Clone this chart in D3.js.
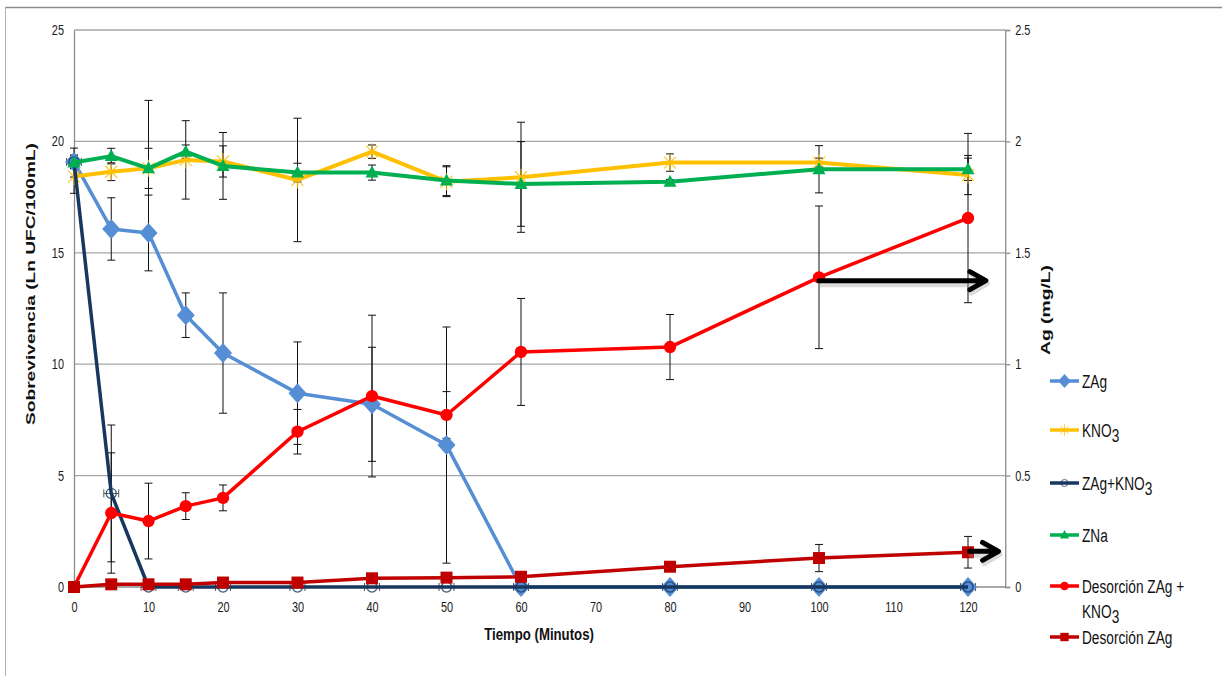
<!DOCTYPE html>
<html>
<head>
<meta charset="utf-8">
<script src="https://cdn.jsdelivr.net/npm/d3@7"></script>
<style>
  html, body { margin: 0; padding: 0; background: #ffffff; }
  svg { display: block; }
  text { font-family: "Liberation Sans", Arial, sans-serif; }
</style>
</head>
<body>
<svg id="chart" width="1222" height="676"></svg>
<script>
// Time points (minutes)
const tiempo = [0, 5, 10, 15, 20, 30, 40, 50, 60, 80, 100, 120];

// Survival, Ln UFC/100mL (left axis)
const zag          = [19.08, 16.07, 15.89, 12.2, 10.5, 8.7, 8.2, 6.37, 0, 0, 0, 0];
const zagErr       = [0.3, 1.4, 1.7, 1.0, 2.7, 2.3, 2.56, 5.3, 0, 0, 0, 0];
const kno3         = [18.42, 18.64, 18.79, 19.17, 19.1, 18.27, 19.54, 18.19, 18.39, 19.05, 19.05, 18.49];
const kno3Err      = [0.75, 0.4, 0.9, 1.76, 0.7, 2.77, 0.3, 0.67, 2.47, 0.39, 0.2, 0.88];
const zagKno3      = [19.08, 4.2, 0, 0, 0, 0, 0, 0, 0, 0, 0, 0];
const zagKno3Err   = [0.3, 3.07, 0, 0, 0, 0, 0, 0, 0, 0, 0, 0];
const zagKno3XErr  = [1, 1, 1, 1, 1, 1, 1, 1, 1, 1, 1, 1];
const zna          = [19.05, 19.34, 18.79, 19.54, 18.9, 18.6, 18.6, 18.24, 18.09, 18.19, 18.75, 18.75];
const znaErr       = [0.65, 0.35, 3.05, 0.3, 1.5, 0.42, 0.34, 0.67, 1.9, 0.1, 1.06, 0.5];

// Silver released, mg/L (right axis)
const desZagKno3    = [0, 0.332, 0.296, 0.363, 0.40, 0.697, 0.857, 0.772, 1.055, 1.077, 1.39, 1.656];
const desZagKno3Err = [0, 0.27, 0.17, 0.06, 0.058, 0.1, 0.363, 0.105, 0.24, 0.146, 0.32, 0.38];
const desZag        = [0, 0.012, 0.012, 0.012, 0.02, 0.02, 0.039, 0.042, 0.046, 0.091, 0.13, 0.156];
const desZagErr     = [0, 0, 0, 0, 0, 0, 0, 0, 0, 0, 0.061, 0.071];

// Axis ticks
const xTicks  = [0, 10, 20, 30, 40, 50, 60, 70, 80, 90, 100, 110, 120];
const yTicks  = [0, 5, 10, 15, 20, 25];
const y2Ticks = [0, 0.5, 1, 1.5, 2, 2.5];

// Arrows pointing from the silver curves towards the right axis: [x start, value, x end]
const arrowHigh = [100, 1.375, 122.4];
const arrowLow  = [120.2, 0.16, 124.1];

const svg = d3.select("#chart");

const x  = d3.scaleLinear().domain([0, 125]).range([74, 1005.25]);
const y  = d3.scaleLinear().domain([0, 25]).range([587, 30]);
const y2 = d3.scaleLinear().domain([0, 2.5]).range([587, 30]);

// Horizontally condensed text: moves x/y into a transform and squeezes the glyphs
function condense(sel, sx) {
  sel.each(function () {
    const t = d3.select(this);
    const tx = +t.attr("x") || 0, ty = +t.attr("y") || 0;
    t.attr("x", null).attr("y", null)
      .attr("transform", `translate(${tx},${ty}) scale(${sx},1)`);
  });
}

// Outer chart frame
svg.append("line").attr("x1", 5).attr("x2", 1222).attr("y1", 7.5).attr("y2", 7.5)
  .attr("stroke", "#8c8c8c").attr("stroke-width", 1.5);
svg.append("line").attr("x1", 5.5).attr("x2", 5.5).attr("y1", 7).attr("y2", 676)
  .attr("stroke", "#b0b0b0").attr("stroke-width", 1);

// Gridlines
svg.append("g").selectAll("line").data(yTicks.filter(d => d > 0)).join("line")
  .attr("x1", x(0)).attr("x2", x(125))
  .attr("y1", d => y(d)).attr("y2", d => y(d))
  .attr("stroke", "#a6a6a6").attr("stroke-width", 1.3);

// Axes
const gL = svg.append("g").attr("transform", `translate(${x(0)},0)`)
  .call(d3.axisLeft(y).tickValues(yTicks).tickSize(0).tickPadding(10).tickFormat(d3.format("d")));
const gR = svg.append("g").attr("transform", `translate(${x(125)},0)`)
  .call(d3.axisRight(y2).tickValues(y2Ticks).tickSize(5).tickPadding(5).tickFormat(d => d3.format("")(d)));
const gB = svg.append("g").attr("transform", `translate(0,${y(0)})`)
  .call(d3.axisBottom(x).tickValues(xTicks).tickSize(0).tickPadding(15).tickFormat(d3.format("d")));
[gL, gR, gB].forEach(g => {
  g.select(".domain").attr("stroke", "#8c8c8c").attr("stroke-width", 1.3);
  g.selectAll(".tick line").attr("stroke", "#8c8c8c").attr("stroke-width", 1.3);
  g.selectAll("text").attr("font-family", null).attr("font-size", 14).attr("fill", "#1a1a1a");
  condense(g.selectAll("text"), 0.78);
});
gB.select(".domain").attr("d", `M${x(0)},0H${x(125)}`);

// Axis titles
svg.append("text").attr("transform", "translate(35,284) rotate(-90)")
  .attr("text-anchor", "middle").attr("font-weight", "bold").attr("font-size", 13.5).attr("fill", "#111")
  .attr("textLength", 282).attr("lengthAdjust", "spacingAndGlyphs")
  .text("Sobrevivencia (Ln UFC/100mL)");
svg.append("text").attr("transform", "translate(1050,310) rotate(-90)")
  .attr("text-anchor", "middle").attr("font-weight", "bold").attr("font-size", 13.5).attr("fill", "#111")
  .attr("textLength", 90).attr("lengthAdjust", "spacingAndGlyphs")
  .text("Ag (mg/L)");
svg.append("text").attr("x", 539).attr("y", 640)
  .attr("text-anchor", "middle").attr("font-weight", "bold").attr("font-size", 16.5).attr("fill", "#111")
  .text("Tiempo (Minutos)")
  .call(condense, 0.8);

// Series definitions
const series = [
  { name: "ZAg", vals: zag, err: zagErr, scale: y, color: "#558ED5", width: 3.5, marker: "diamond" },
  { name: "KNO3", vals: kno3, err: kno3Err, scale: y, color: "#FFC000", width: 4, marker: "star" },
  { name: "ZAg+KNO3", vals: zagKno3, err: zagKno3Err, xerr: zagKno3XErr, scale: y, color: "#17375E", width: 3.5, marker: "ring" },
  { name: "ZNa", vals: zna, err: znaErr, scale: y, color: "#00B050", width: 4, marker: "triangle" },
  { name: "DesA", vals: desZagKno3, err: desZagKno3Err, scale: y2, color: "#FF0000", width: 3.5, marker: "circle" },
  { name: "DesB", vals: desZag, err: desZagErr, scale: y2, color: "#C00000", width: 3.5, marker: "square" }
];

function markerPath(kind) {
  switch (kind) {
    case "diamond":  return "M0,-10L9,0L0,10L-9,0Z";
    case "triangle": return "M0,-7L6.5,5L-6.5,5Z";
    case "square":   return "M-6,-6H6V6H-6Z";
    case "circle":   return d3.symbol(d3.symbolCircle, 120)();
    case "ring":     return d3.symbol(d3.symbolCircle, 80)();
    case "star":     return "M-6,-6L6,6M-6,6L6,-6M0,-8.5V8.5";
  }
}

function drawMarker(g, kind, color, px, py, s = 1) {
  const m = g.append("path").attr("d", markerPath(kind))
    .attr("transform", `translate(${px},${py}) scale(${s})`);
  if (kind === "star") m.attr("fill", "none").attr("stroke", color).attr("stroke-width", 1.2).attr("opacity", 0.85);
  else if (kind === "ring") m.attr("fill", "none").attr("stroke", color).attr("stroke-width", 1.3).attr("opacity", 0.8);
  else m.attr("fill", color);
}

// Error bars (drawn beneath the series)
const gErr = svg.append("g").attr("stroke", "#111").attr("stroke-width", 1);
series.forEach(s => {
  tiempo.forEach((t, i) => {
    const e = s.err[i];
    const cx = x(t);
    if (e > 0) {
      const top = s.scale(s.vals[i] + e), bot = s.scale(s.vals[i] - e);
      gErr.append("line").attr("x1", cx).attr("x2", cx).attr("y1", top).attr("y2", bot);
      gErr.append("line").attr("x1", cx - 4).attr("x2", cx + 4).attr("y1", top).attr("y2", top);
      gErr.append("line").attr("x1", cx - 4).attr("x2", cx + 4).attr("y1", bot).attr("y2", bot);
    }
    if (s.xerr && s.xerr[i] > 0) {
      const cy = s.scale(s.vals[i]);
      const l = x(t - s.xerr[i]), r = x(t + s.xerr[i]);
      gErr.append("line").attr("x1", l).attr("x2", r).attr("y1", cy).attr("y2", cy).attr("stroke", "#555");
      gErr.append("line").attr("x1", l).attr("x2", l).attr("y1", cy - 4).attr("y2", cy + 4).attr("stroke", "#555");
      gErr.append("line").attr("x1", r).attr("x2", r).attr("y1", cy - 4).attr("y2", cy + 4).attr("stroke", "#555");
    }
  });
});

// Lines and markers
series.forEach(s => {
  const g = svg.append("g");
  const line = d3.line().x((d, i) => x(tiempo[i])).y(d => s.scale(d));
  g.append("path").datum(s.vals).attr("d", line)
    .attr("fill", "none").attr("stroke", s.color).attr("stroke-width", s.width)
    .attr("stroke-linejoin", "round");
  s.vals.forEach((v, i) => drawMarker(g, s.marker, s.color, x(tiempo[i]), s.scale(v)));
});

// Annotation arrows
function arrow(a) {
  const x1 = x(a[0]), x2 = x(a[2]), yy = y2(a[1]);
  const g = svg.append("g").attr("stroke", "#000").attr("fill", "none")
    .attr("stroke-width", 5).attr("stroke-linecap", "round").attr("stroke-linejoin", "round");
  g.append("path").attr("d", `M${x1},${yy + 2}H${x2 - 2}M${x2 - 16},${yy - 8.5}L${x2},${yy + 1}L${x2 - 16},${yy + 10.5}`)
    .attr("stroke", "#999").attr("opacity", 0.35).attr("transform", "translate(1.5,2)");
  g.append("path").attr("d", `M${x1},${yy}H${x2 - 2}M${x2 - 16},${yy - 9}L${x2},${yy}L${x2 - 16},${yy + 9}`);
}
arrow(arrowHigh);
arrow(arrowLow);

// Legend
const legend = [
  { kind: "diamond", color: "#558ED5", y: 381, lines: [["ZAg"]] },
  { kind: "star", color: "#FFC000", y: 430, lines: [["KNO", "3"]] },
  { kind: "ring", color: "#17375E", y: 483, lines: [["ZAg+KNO", "3"]] },
  { kind: "triangle", color: "#00B050", y: 535, lines: [["ZNa"]] },
  { kind: "circle", color: "#FF0000", y: 586, lines: [["Desorción ZAg +"], ["KNO", "3"]] },
  { kind: "square", color: "#C00000", y: 637, lines: [["Desorción ZAg"]] }
];
const gLeg = svg.append("g");
legend.forEach(l => {
  gLeg.append("line").attr("x1", 1050).attr("x2", 1079).attr("y1", l.y).attr("y2", l.y)
    .attr("stroke", l.color).attr("stroke-width", 3.5);
  drawMarker(gLeg, l.kind, l.color, 1064.5, l.y, 0.7);
  l.lines.forEach((ln, k) => {
    const t = gLeg.append("text").attr("x", 1082).attr("y", l.y + 6.5 + k * 25)
      .attr("font-size", 19).attr("fill", "#111");
    t.append("tspan").text(ln[0]);
    if (ln[1]) t.append("tspan").attr("dy", 5).text(ln[1]);
    condense(t, 0.72);
  });
});
</script>
</body>
</html>
